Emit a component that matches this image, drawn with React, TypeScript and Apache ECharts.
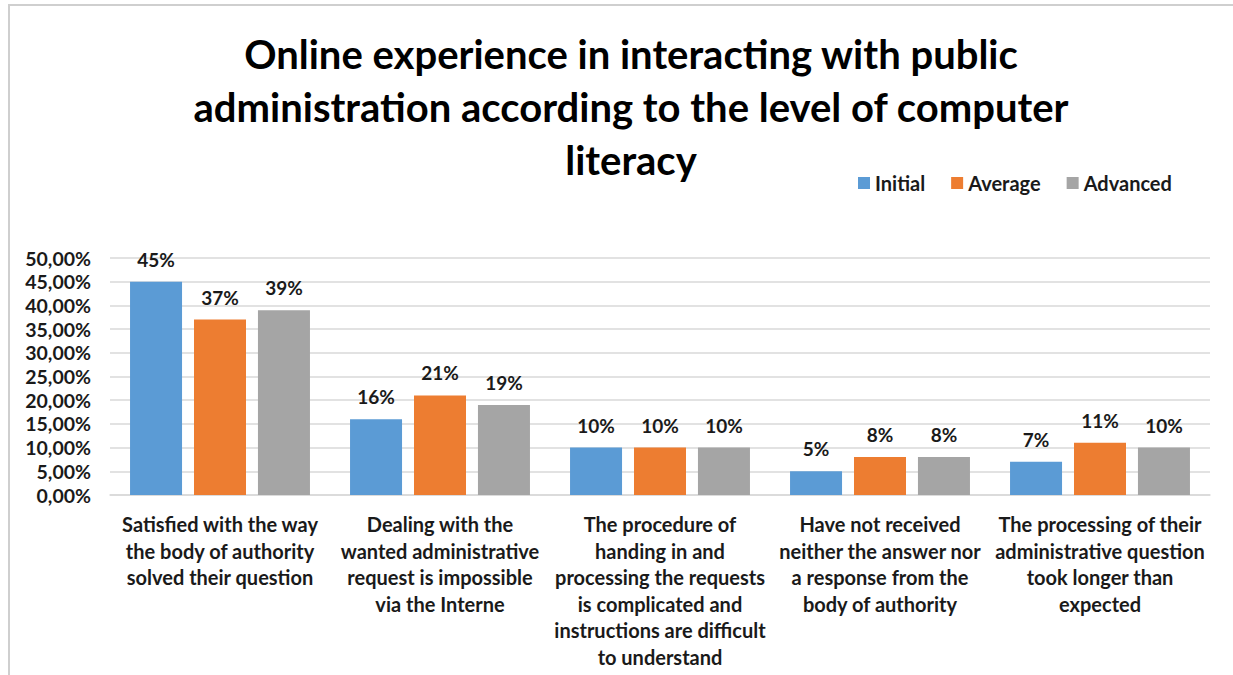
import React, { useEffect, useRef } from "react";
import * as echarts from "echarts";

const categories = [
  "Satisfied with the way\nthe body of authority\nsolved their question",
  "Dealing with the\nwanted administrative\nrequest is impossible\nvia the Interne",
  "The procedure of\nhanding in and\nprocessing the requests\nis complicated and\ninstructions are difficult\nto understand",
  "Have not received\nneither the answer nor\na response from the\nbody of authority",
  "The processing of their\nadministrative question\ntook longer than\nexpected",
];
const seriesNames = ["Initial", "Average", "Advanced"];
const initialValues = [45, 16, 10, 5, 7];
const averageValues = [37, 21, 10, 8, 11];
const advancedValues = [39, 19, 10, 8, 10];
const colors = ["#5B9BD5", "#ED7D31", "#A5A5A5"];
const titleText =
  "Online experience in interacting with public\nadministration according to the level of computer\nliteracy";

const FONT = "Lato, 'Open Sans', sans-serif";

export default function App() {
  const ref = useRef<HTMLDivElement>(null);
  useEffect(() => {
    if (!ref.current) return;
    const chart = echarts.init(ref.current, undefined, { renderer: "svg" });
    const values = [initialValues, averageValues, advancedValues];
    chart.setOption({
      animation: false,
      backgroundColor: "#ffffff",
      textStyle: { fontFamily: FONT },
      title: {
        text: titleText,
        left: 626,
        top: 22,
        textAlign: "center",
        textStyle: {
          fontFamily: FONT,
          fontSize: 40,
          fontWeight: "bold",
          color: "#000",
          lineHeight: 53,
        },
      },
      legend: {
        data: seriesNames,
        left: 853,
        top: 168,
        itemWidth: 12,
        itemHeight: 12,
        itemGap: 26,
        icon: "rect",
        textStyle: { fontFamily: FONT, fontSize: 20, fontWeight: "bold", color: "#1a1a1a" },
      },
      graphic: [
        { type: "rect", shape: { x: 8, y: 4, width: 1240, height: 2 }, style: { fill: "#cfcfcf" } },
        { type: "rect", shape: { x: 8, y: 4, width: 2, height: 680 }, style: { fill: "#cfcfcf" } },
      ],
      grid: { left: 110, right: 23, top: 258, bottom: 180, containLabel: false },
      xAxis: {
        type: "category",
        data: categories,
        axisTick: { show: false },
        axisLine: { lineStyle: { color: "#d9d9d9", width: 1.5 } },
        axisLabel: {
          interval: 0,
          margin: 16,
          fontFamily: FONT,
          fontSize: 20,
          fontWeight: "bold",
          color: "#1a1a1a",
          lineHeight: 26.5,
          align: "center",
          verticalAlign: "top",
        },
      },
      yAxis: {
        type: "value",
        min: 0,
        max: 50,
        interval: 5,
        axisLine: { show: false },
        axisTick: { show: false },
        splitLine: { lineStyle: { color: "#d9d9d9", width: 1.5 } },
        axisLabel: {
          margin: 19,
          fontFamily: FONT,
          fontSize: 19.5,
          fontWeight: "bold",
          color: "#1a1a1a",
          formatter: (v: number) => v.toFixed(2).replace(".", ",") + "%",
        },
      },
      series: seriesNames.map((name, i) => ({
        name,
        type: "bar",
        data: values[i],
        barWidth: 52,
        barGap: "23%",
        itemStyle: { color: colors[i] },
        label: {
          show: true,
          position: "top",
          distance: 13,
          fontFamily: FONT,
          fontSize: 19,
          fontWeight: "bold",
          color: "#1a1a1a",
          formatter: (p: any) => p.value + "%",
        },
      })),
    });
    return () => chart.dispose();
  }, []);
  return (
    <div
      ref={ref}
      style={{ position: "absolute", left: 0, top: 0, width: 1233, height: 675 }}
    />
  );
}
